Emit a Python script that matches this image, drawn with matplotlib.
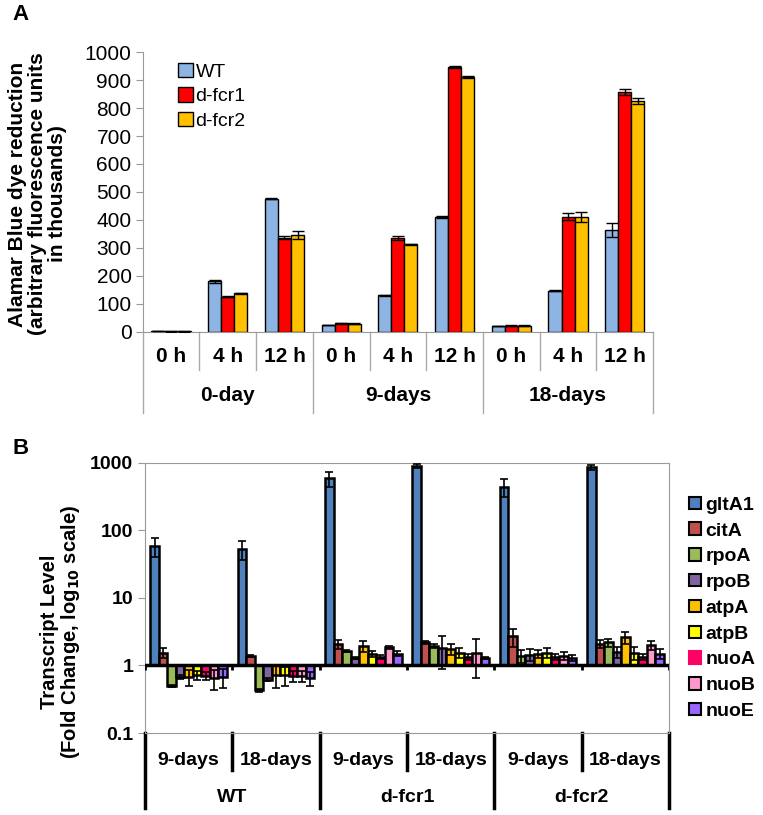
import numpy as np
import matplotlib.pyplot as plt
from matplotlib.patches import Patch

plt.rcParams['font.family'] = ['Liberation Sans', 'DejaVu Sans']

### DATA ###
# Panel A
a_groups = ['0-day', '9-days', '18-days']
a_times = ['0 h', '4 h', '12 h']
a_series = ['WT', 'd-fcr1', 'd-fcr2']
a_colors = ['#8DB4E2', '#FF0000', '#FFC000']
wt_vals = [2, 180, 476, 24, 131, 410, 20, 147, 364]
wt_err = [1, 5, 2, 1, 2, 3, 1, 3, 25]
fcr1_vals = [1, 125, 336, 30, 335, 947, 22, 412, 858]
fcr1_err = [1, 2, 5, 1, 8, 5, 1, 12, 10]
fcr2_vals = [1, 138, 345, 29, 312, 910, 22, 410, 826]
fcr2_err = [1, 2, 15, 1, 2, 3, 1, 18, 10]

# Panel B
b_strains = ['WT', 'd-fcr1', 'd-fcr2']
b_days = ['9-days', '18-days']
genes = ['gltA1', 'citA', 'rpoA', 'rpoB', 'atpA', 'atpB', 'nuoA', 'nuoB', 'nuoE']
gene_colors = ['#4F81BD', '#C0504D', '#9BBB59', '#8064A2', '#FFC000',
               '#FFFF00', '#FF0066', '#FF99CC', '#9966FF']
# rows: WT 9d, WT 18d, fcr1 9d, fcr1 18d, fcr2 9d, fcr2 18d ; cols: genes
b_vals = [
    [58, 1.55, 0.50, 0.68, 0.68, 0.72, 0.70, 0.65, 0.68],
    [53, 1.40, 0.43, 0.62, 0.72, 0.72, 0.70, 0.70, 0.65],
    [590, 2.05, 1.66, 1.30, 1.95, 1.50, 1.35, 1.85, 1.50],
    [900, 2.20, 1.95, 1.80, 1.75, 1.55, 1.35, 1.55, 1.30],
    [445, 2.70, 1.40, 1.45, 1.50, 1.55, 1.35, 1.40, 1.30],
    [860, 2.10, 2.20, 1.60, 2.60, 1.55, 1.35, 2.00, 1.50],
]
b_err = [
    [18, 0.25, 0.02, 0.05, 0.18, 0.12, 0.10, 0.22, 0.22],
    [17, 0.05, 0.02, 0.04, 0.25, 0.23, 0.13, 0.13, 0.15],
    [150, 0.30, 0.05, 0.05, 0.35, 0.15, 0.10, 0.10, 0.12],
    [60, 0.10, 0.15, 0.90, 0.30, 0.25, 0.15, 0.90, 0.05],
    [135, 0.80, 0.30, 0.30, 0.20, 0.25, 0.15, 0.20, 0.15],
    [80, 0.30, 0.30, 0.30, 0.55, 0.35, 0.15, 0.30, 0.25],
]

fig = plt.figure(figsize=(7.63, 8.15), dpi=100)

### PANEL A ###
axA = fig.add_axes([0.187, 0.593, 0.669, 0.343])
xa = np.arange(len(wt_vals))
w = 0.23
for i, (vals, errs) in enumerate([(wt_vals, wt_err), (fcr1_vals, fcr1_err), (fcr2_vals, fcr2_err)]):
    axA.bar(xa + (i - 1) * w, vals, w, color=a_colors[i], edgecolor='black', linewidth=1,
            label=a_series[i], zorder=2)
    axA.errorbar(xa + (i - 1) * w, vals, yerr=errs, fmt='none', ecolor='black',
                 elinewidth=1, capsize=4, capthick=1, zorder=3)
axA.set_xlim(-0.5, len(wt_vals) - 0.5)
axA.set_ylim(0, 1000)
axA.set_yticks(np.arange(0, 1001, 100))
axA.tick_params(axis='y', labelsize=15, color='#999999', length=5, pad=3)
axA.set_xticks([])
for s in ['top', 'right']:
    axA.spines[s].set_visible(False)
for s in ['left', 'bottom']:
    axA.spines[s].set_color('#999999')

ta = axA.get_xaxis_transform()
for k in range(len(wt_vals) + 1):
    b = -0.29 if k % 3 == 0 else -0.136
    axA.plot([k - 0.5, k - 0.5], [0, b], transform=ta, color='#AAAAAA', lw=1, clip_on=False)
for k in range(len(wt_vals)):
    axA.text(k, -0.089, a_times[k % 3], transform=ta, ha='center', va='center',
             fontsize=15, fontweight='bold')
for g, name in enumerate(a_groups):
    axA.text(3 * g + 1, -0.228, name, transform=ta, ha='center', va='center',
             fontsize=15, fontweight='bold')

axA.legend(loc='upper left', bbox_to_anchor=(0.035, 1.025), frameon=False, fontsize=14,
           handlelength=0.75, handleheight=0.75, handletextpad=0.15, labelspacing=0.35)
fig.text(0.049, 0.762, 'Alamar Blue dye reduction\n(arbitrary fluorescence units\nin thousands)',
         rotation=90, ha='center', va='center', fontsize=15, fontweight='bold', linespacing=1.05)
fig.text(0.016, 0.982, 'A', fontsize=16, fontweight='bold', va='center')

### PANEL B ###
axB = fig.add_axes([0.190, 0.1006, 0.687, 0.3314])
axB.set_yscale('log')
bw = 0.0975
xb = np.arange(len(b_vals))
for j, gname in enumerate(genes):
    v = np.array([row[j] for row in b_vals])
    e = np.array([row[j] for row in b_err])
    xpos = xb + (j - 4) * bw
    axB.bar(xpos, v - 1, bw, bottom=1, color=gene_colors[j], edgecolor='black',
            linewidth=1.8, zorder=2)
    axB.errorbar(xpos, v, yerr=e, fmt='none', ecolor='black', elinewidth=1.2,
                 capsize=3, capthick=1.2, zorder=3)
axB.set_xlim(-0.5, len(b_vals) - 0.5)
axB.set_ylim(0.1, 1000)
axB.set_yticks([0.1, 1, 10, 100, 1000])
axB.set_yticklabels(['0.1', '1', '10', '100', '1000'])
axB.minorticks_off()
axB.tick_params(axis='y', labelsize=14, color='#999999', length=5)
for lbl in axB.get_yticklabels():
    lbl.set_fontweight('bold')
axB.set_xticks([])
for s in ['top', 'right', 'left', 'bottom']:
    axB.spines[s].set_color('#999999')
axB.axhline(1, color='black', lw=2.5, zorder=4)
axB.vlines(np.arange(len(b_vals) + 1) - 0.5, 0.85, 1, color='black', lw=2, zorder=4)

tb = axB.get_xaxis_transform()
for k in range(len(b_vals) + 1):
    b = -0.278 if k % 2 == 0 else -0.137
    axB.plot([k - 0.5, k - 0.5], [0, b], transform=tb, color='black', lw=2.5, clip_on=False)
for k in range(len(b_vals)):
    axB.text(k, -0.1, b_days[k % 2], transform=tb, ha='center', va='center',
             fontsize=14, fontweight='bold')
for g, name in enumerate(b_strains):
    axB.text(2 * g + 0.5, -0.237, name, transform=tb, ha='center', va='center',
             fontsize=14, fontweight='bold')

handles = [Patch(facecolor=c, edgecolor='black', linewidth=1.5) for c in gene_colors]
handles[6] = Patch(facecolor=gene_colors[6], edgecolor=gene_colors[6], linewidth=1.5)
leg = fig.legend(handles, genes, loc='upper left', bbox_to_anchor=(0.88, 0.412), frameon=False,
                 handlelength=0.6, handleheight=0.6, handletextpad=0.25, labelspacing=0.45,
                 prop={'size': 14, 'weight': 'bold'})
fig.text(0.08, 0.2245, 'Transcript Level\n(Fold Change, log$_{\\mathbf{10}}$ scale)',
         rotation=90, ha='center', va='center', fontsize=14.5, fontweight='bold', linespacing=1.05)
fig.text(0.016, 0.45, 'B', fontsize=16, fontweight='bold', va='center')

fig.savefig('out.png', dpi=100)
